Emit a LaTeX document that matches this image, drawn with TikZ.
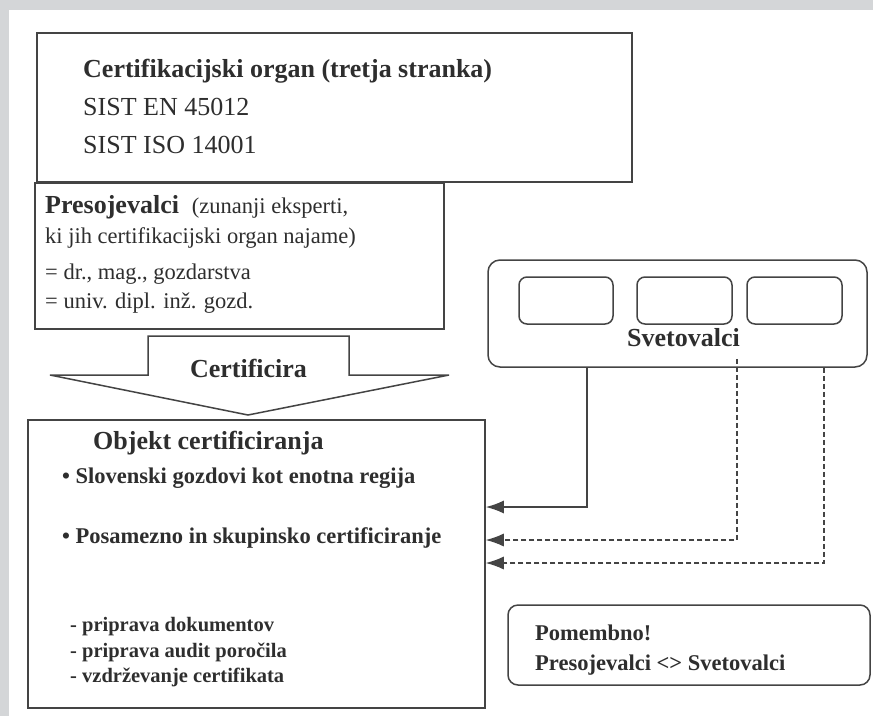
\documentclass[tikz,border=0pt]{standalone}
\usepackage{fontspec}
\setmainfont{Liberation Serif}
\usetikzlibrary{arrows.meta}
\definecolor{ozadje}{HTML}{D4D6D8}
\definecolor{crta}{HTML}{444444}
\definecolor{besedilo}{HTML}{2E2E2E}
\newcommand{\velik}{\fontsize{26}{31}\selectfont}
\newcommand{\srednji}{\fontsize{22.5}{27}\selectfont}
\newcommand{\majhen}{\fontsize{20.5}{24}\selectfont}
\begin{document}
\begin{tikzpicture}[x=1pt, y=-1pt,
        okvir/.style={draw=crta, line width=1.5pt, fill=white, inner sep=0pt},
        zaobljen/.style={okvir, rounded corners=#1},
        tekst/.style={anchor=base west, inner sep=0pt, text=besedilo},
        povezava/.style={draw=crta, line width=1.6pt, -{Latex[length=18pt,width=13pt]}},
        crtkano/.style={povezava, line width=1.2pt, dash pattern=on 5pt off 3pt}]
    % ozadje
    \fill[ozadje] (0,0) rectangle (873,716);
    \fill[white] (9,10) rectangle (873,716);
    \useasboundingbox (0,0) rectangle (873,716);

    % Certifikacijski organ
    \node[okvir, minimum width=595pt, minimum height=149pt] (organ) at (334.5,107.5) {};
    \node[tekst] (organ1) at (83,77) {\velik\bfseries Certifikacijski organ (tretja stranka)};
    \node[tekst] (organ2) at (83,115) {\velik SIST EN 45012};
    \node[tekst] (organ3) at (83,153) {\velik SIST ISO 14001};

    % Presojevalci
    \node[okvir, minimum width=409pt, minimum height=146pt] (presoj) at (239.5,256) {};
    \node[tekst] (presoj1) at (45,213) {\velik\bfseries Presojevalci\ \ \srednji\mdseries (zunanji eksperti,};
    \node[tekst] (presoj2) at (45,243) {\srednji ki jih certifikacijski organ najame)};
    \node[tekst] (presoj3) at (45,279) {\srednji = dr., mag., gozdarstva};
    \node[tekst] (presoj4) at (45,308) {\srednji = univ. dipl. inž. gozd.};

    % Certificira
    \draw[okvir] (148,336) -- (349,336) -- (349,375) -- (449,375) -- (248,415)
        -- (50,375) -- (148,375) -- cycle;
    \node[tekst, anchor=base] (cert) at (248.5,377) {\velik\bfseries Certificira};

    % Objekt certificiranja
    \node[okvir, minimum width=457pt, minimum height=288pt] (objekt) at (256.5,564) {};
    \node[tekst] (obj0) at (93,449) {\velik\bfseries Objekt certificiranja};
    \node[tekst] (obj1) at (62,483) {\srednji\bfseries \textbullet\ Slovenski gozdovi kot enotna regija};
    \node[tekst] (obj2) at (62,543) {\srednji\bfseries \textbullet\ Posamezno in skupinsko certificiranje};
    \node[tekst] (obj3) at (70,631) {\majhen\bfseries - priprava dokumentov};
    \node[tekst] (obj4) at (70,657) {\majhen\bfseries - priprava audit poročila};
    \node[tekst] (obj5) at (70,682) {\majhen\bfseries - vzdrževanje certifikata};

    % Svetovalci
    \node[zaobljen=12pt, minimum width=379pt, minimum height=107pt] (svet) at (677.5,313.5) {};
    \node[zaobljen=8pt, minimum width=94pt, minimum height=47pt] (svetA) at (566,300.5) {};
    \node[zaobljen=8pt, minimum width=95pt, minimum height=47pt] (svetB) at (684.5,300.5) {};
    \node[zaobljen=8pt, minimum width=95pt, minimum height=47pt] (svetC) at (794.5,300.5) {};
    \node[tekst, anchor=base] (svetT) at (683.5,346) {\velik\bfseries Svetovalci};

    \draw[povezava] (svet.south -| 587,0) |- (objekt.east |- 0,507);
    \draw[crtkano] ([yshift=9pt]svet.south -| 737,0) |- (objekt.east |- 0,540);
    \draw[crtkano] (svet.south -| 824,0) |- (objekt.east |- 0,563);

    % Pomembno
    \node[zaobljen=10pt, minimum width=362pt, minimum height=80pt] (pomemb) at (689,645) {};
    \node[tekst] (pomemb1) at (535,640) {\srednji\bfseries Pomembno!};
    \node[tekst] (pomemb2) at (535,670) {\srednji\bfseries Presojevalci <> Svetovalci};
\end{tikzpicture}
\end{document}
